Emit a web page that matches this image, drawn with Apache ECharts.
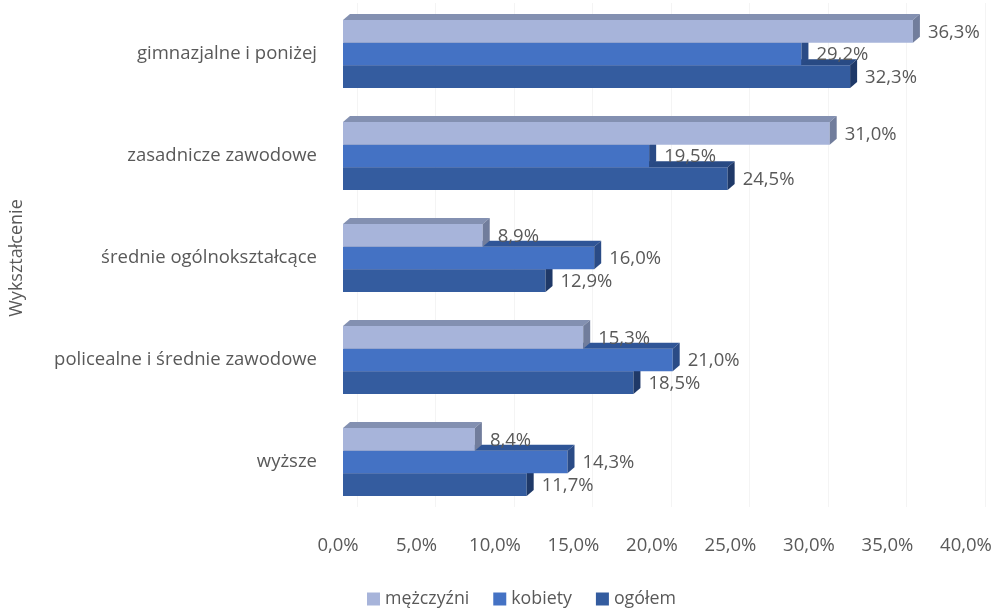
<!DOCTYPE html>
<html>
<head>
<meta charset="utf-8">
<script src="https://cdn.jsdelivr.net/npm/echarts@6/dist/echarts.min.js"></script>
<style>html,body{margin:0;padding:0;background:#fff;}#c{width:993px;height:608px;}</style>
</head>
<body>
<div id="c"></div>
<script>
var categories = ['gimnazjalne i poniżej', 'zasadnicze zawodowe', 'średnie ogólnokształcące', 'policealne i średnie zawodowe', 'wyższe'];
var seriesNames = ['mężczyźni', 'kobiety', 'ogółem'];
var men = [36.3, 31.0, 8.9, 15.3, 8.4];
var women = [29.2, 19.5, 16.0, 21.0, 14.3];
var total = [32.3, 24.5, 12.9, 18.5, 11.7];
var xTicks = [0, 5, 10, 15, 20, 25, 30, 35, 40];

var FONT = 'Open Sans';
var TXT = '#595959';
var FS = 18.5;
var palettes = [
  {front: '#A7B4DA', top: '#8390B1', side: '#717D9C'},
  {front: '#4472C4', top: '#2F5597', side: '#2A4B86'},
  {front: '#345C9F', top: '#284A84', side: '#1F3968'}
];
var DX = 7, DY = 6;
function fmt(v) { return v.toFixed(1).replace('.', ',') + '%'; }

function makeRender(slot) {
  return function (params, api) {
    var val = api.value(0), cat = api.value(1);
    var c = api.coord([val, cat]);
    var c0 = api.coord([0, cat]);
    var band = api.size([0, 1])[1];
    var h = band * 0.667 / 3;
    var yt = c[1] - 1.5 * h + slot * h;
    var yb = yt + h;
    var x0 = c0[0], xe = c[0];
    var p = palettes[slot];
    return {
      type: 'group',
      children: [
        {type: 'rect', shape: {x: x0, y: yt, width: xe - x0, height: h}, style: {fill: p.front}},
        {type: 'polygon', shape: {points: [[x0, yt], [xe, yt], [xe + DX, yt - DY], [x0 + DX, yt - DY]]}, style: {fill: p.top}},
        {type: 'polygon', shape: {points: [[xe, yt], [xe + DX, yt - DY], [xe + DX, yb - DY], [xe, yb]]}, style: {fill: p.side}},
        {type: 'text', style: {text: fmt(val), x: xe + 15, y: (yt + yb) / 2 + 1, fill: TXT, fontSize: FS, fontFamily: FONT, verticalAlign: 'middle', align: 'left'}}
      ]
    };
  };
}

function toData(arr) { return arr.map(function (v, i) { return [v, i]; }); }

var chart = echarts.init(document.getElementById('c'));
chart.setOption({
  animation: false,
  backgroundColor: '#ffffff',
  grid: [
    {left: 343, top: 3, width: 628, height: 510, outerBoundsMode: 'none', containLabel: false},
    {left: 357, top: 3, width: 628, height: 504, outerBoundsMode: 'none', containLabel: false}
  ],
  legend: {
    data: seriesNames,
    left: 367, top: 590, padding: 0,
    itemWidth: 13, itemHeight: 13, itemGap: 24,
    icon: 'rect',
    textStyle: {fontSize: 17.8, fontFamily: FONT, color: TXT}
  },
  xAxis: [
    {
      type: 'value', gridIndex: 0, min: xTicks[0], max: xTicks[xTicks.length - 1], interval: 5,
      axisLine: {show: false}, axisTick: {show: false}, splitLine: {show: false},
      axisLabel: {formatter: fmt, fontSize: FS, fontFamily: FONT, color: TXT, margin: 23, padding: [0, 10, 0, 0]}
    },
    {
      type: 'value', gridIndex: 1, min: 0, max: 40, interval: 5,
      axisLine: {show: false}, axisTick: {show: false}, axisLabel: {show: false},
      splitLine: {show: true, lineStyle: {color: '#F4F4F4', width: 1}}
    }
  ],
  yAxis: [
    {
      type: 'category', gridIndex: 0, data: categories, inverse: true,
      axisLine: {show: false}, axisTick: {show: false},
      axisLabel: {fontSize: FS, fontFamily: FONT, color: TXT, margin: 26, padding: [12, 0, 0, 0]},
      name: 'Wykształcenie', nameLocation: 'middle', nameRotate: 90, nameGap: 317,
      nameTextStyle: {fontSize: 18, fontFamily: FONT, color: TXT}
    },
    {
      type: 'category', gridIndex: 1, data: categories, show: false
    }
  ],
  series: [
    {name: seriesNames[2], type: 'custom', renderItem: makeRender(2), data: toData(total), z: 2, encode: {x: 0, y: 1}, itemStyle: {color: palettes[2].front}},
    {name: seriesNames[1], type: 'custom', renderItem: makeRender(1), data: toData(women), z: 3, encode: {x: 0, y: 1}, itemStyle: {color: palettes[1].front}},
    {name: seriesNames[0], type: 'custom', renderItem: makeRender(0), data: toData(men), z: 4, encode: {x: 0, y: 1}, itemStyle: {color: palettes[0].front}}
  ]
});
</script>
</body>
</html>
